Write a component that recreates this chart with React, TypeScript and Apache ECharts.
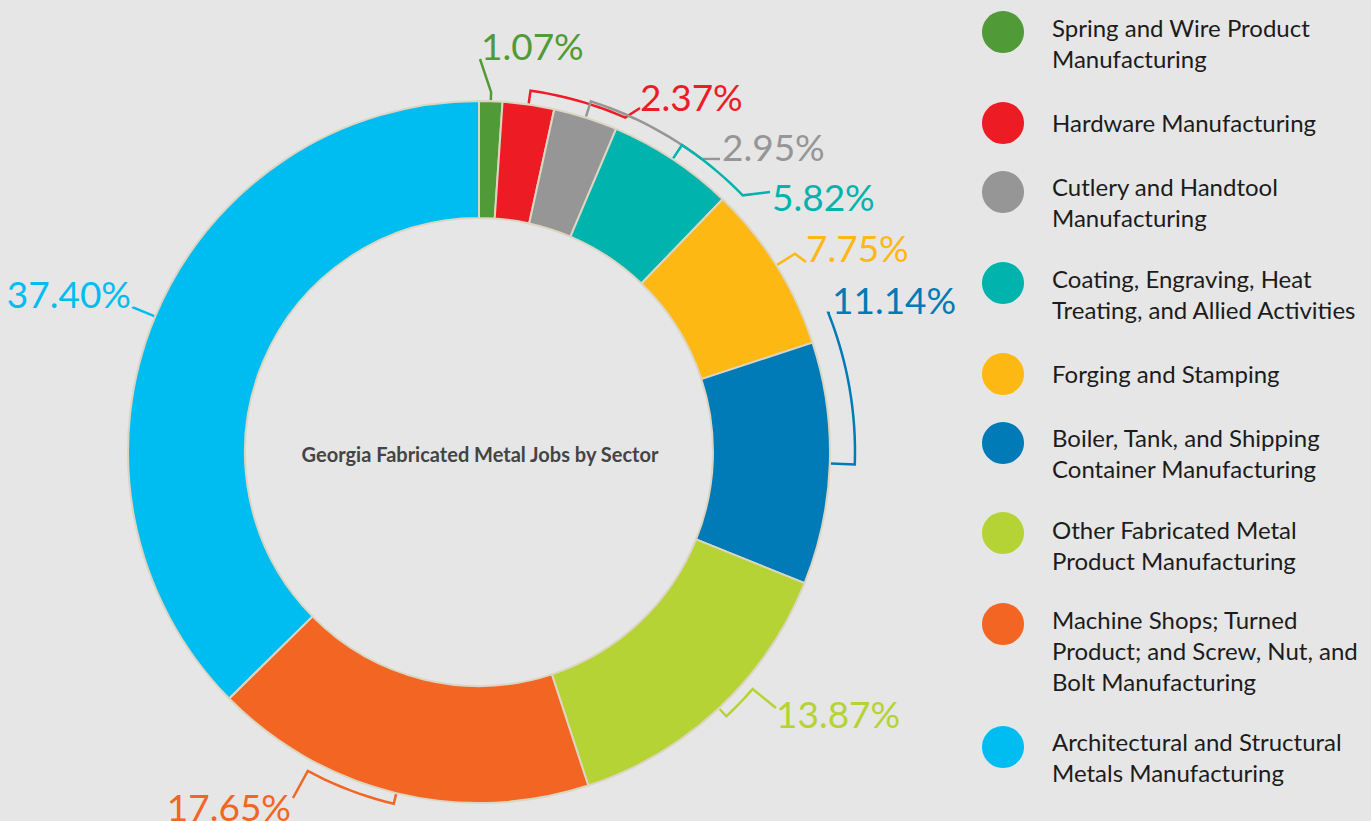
import React, { useEffect, useRef } from 'react';
import * as echarts from 'echarts';

// ---- data ----
const categories = [
  'Spring and Wire Product Manufacturing',
  'Hardware Manufacturing',
  'Cutlery and Handtool Manufacturing',
  'Coating, Engraving, Heat Treating, and Allied Activities',
  'Forging and Stamping',
  'Boiler, Tank, and Shipping Container Manufacturing',
  'Other Fabricated Metal Product Manufacturing',
  'Machine Shops; Turned Product; and Screw, Nut, and Bolt Manufacturing',
  'Architectural and Structural Metals Manufacturing',
];
const values = [1.07, 2.37, 2.95, 5.82, 7.75, 11.14, 13.87, 17.65, 37.4];
const legendLabels = [
  'Spring and Wire Product\nManufacturing',
  'Hardware Manufacturing',
  'Cutlery and Handtool\nManufacturing',
  'Coating, Engraving, Heat\nTreating, and Allied Activities',
  'Forging and Stamping',
  'Boiler, Tank, and Shipping\nContainer Manufacturing',
  'Other Fabricated Metal\nProduct Manufacturing',
  'Machine Shops; Turned\nProduct; and Screw, Nut, and\nBolt Manufacturing',
  'Architectural and Structural\nMetals Manufacturing',
];
const chartTitle = 'Georgia Fabricated Metal Jobs by Sector';

// ---- styles / layout ----
const colors = ['#519a38', '#ed1c24', '#969696', '#00b4ad', '#fdb814', '#007bb7', '#b5d334', '#f26522', '#00bdf1'];
const BG = '#e6e6e6';
const CX = 479;
const CY = 452;
const R_OUT = 351;
const R_IN = 234;
const FONT = 'Lato, "Noto Sans", sans-serif';

// leader: radial tick length beyond ring, arc sweep (deg, + = counter-clockwise), end point near label
const leaderLayout = [
  { tick: 9, arc: 0, end: [480, 59] },
  { tick: 14, arc: -15.5, end: [640, 108] },
  { tick: 17, arc: -19.5, end: [720, 159] },
  { tick: 17, arc: -12.3, end: [770, 192] },
  { tick: 22, arc: 0, end: [806, 262] },
  { tick: 25, arc: 23.6, end: [830, 313] },
  { tick: 11, arc: 6, end: [776, 708] },
  { tick: 11, arc: -14.6, end: [293, 798] },
  { tick: 24, arc: 0, end: [133, 307] },
];
const labelLayoutPos: [number, number, string][] = [
  [481, 45, 'left'],
  [640, 96, 'left'],
  [722, 146, 'left'],
  [772, 196, 'left'],
  [806, 247, 'left'],
  [832, 299, 'left'],
  [776, 713, 'left'],
  [291, 806, 'right'],
  [131, 293, 'right'],
];
const legendTextY = [27, 122, 186, 278, 373, 437, 529, 619, 741];
const legendDotY = [32, 123, 192, 283, 374, 443, 533, 624, 747];

export default function App() {
  const ref = useRef<HTMLDivElement>(null);

  useEffect(() => {
    const chart = echarts.init(ref.current!, null, { renderer: 'svg' });
    const total = values.reduce((a, b) => a + b, 0);
    const toPt = (deg: number, r: number) => [
      CX + r * Math.cos((deg * Math.PI) / 180),
      CY - r * Math.sin((deg * Math.PI) / 180),
    ];

    const legendGraphics: any[] = [];
    categories.forEach((_, i) => {
      legendGraphics.push({
        type: 'circle',
        shape: { cx: 1003, cy: legendDotY[i], r: 21 },
        style: { fill: colors[i] },
        silent: true,
      });
      legendGraphics.push({
        type: 'text',
        x: 1052,
        y: legendTextY[i] - 15.5,
        style: {
          text: legendLabels[i],
          font: `400 24px ${FONT}`,
          fill: '#1c1c1c',
          lineHeight: 31,
          textAlign: 'left',
          textVerticalAlign: 'top',
          align: 'left',
          verticalAlign: 'top',
        },
        silent: true,
      });
    });

    const option: any = {
      animation: false,
      backgroundColor: BG,
      graphic: [
        {
          type: 'text',
          x: CX + 1,
          y: 454,
          style: {
            text: chartTitle,
            font: `700 20px ${FONT}`,
            fill: '#444444',
            textAlign: 'center',
            textVerticalAlign: 'middle',
            align: 'center',
            verticalAlign: 'middle',
          },
          silent: true,
        },
        ...legendGraphics,
      ],
      series: [
        {
          type: 'pie',
          center: [CX, CY],
          radius: [R_IN, R_OUT],
          startAngle: 90,
          clockwise: true,
          avoidLabelOverlap: false,
          silent: true,
          data: categories.map((name, i) => ({
            name,
            value: values[i],
            itemStyle: { color: colors[i] },
            label: { color: colors[i] },
          })),
          itemStyle: { borderColor: '#dcd5c2', borderWidth: 2 },
          label: {
            show: true,
            position: 'outside',
            formatter: (p: any) => `${Number(p.value).toFixed(2)}%`,
            fontFamily: FONT,
            fontWeight: 400,
            fontSize: 37,
          },
          labelLine: { show: false },
          labelLayout: (p: any) => {
            const l = labelLayoutPos[p.dataIndex];
            return { x: l[0], y: l[1], align: l[2], verticalAlign: 'middle' };
          },
        },
        {
          type: 'custom',
          coordinateSystem: 'none',
          silent: true,
          data: values,
          renderItem: (params: any) => {
            const i = params.dataIndex;
            let cum = 0;
            for (let j = 0; j < i; j++) cum += values[j];
            const a0 = 90 - (cum / total) * 360;
            const a1 = 90 - ((cum + values[i]) / total) * 360;
            const mid = (a0 + a1) / 2;
            const L = leaderLayout[i];
            const rr = R_OUT + L.tick;
            const pts: number[][] = [toPt(mid, R_OUT + 1), toPt(mid, rr)];
            const steps = Math.max(1, Math.ceil(Math.abs(L.arc) / 1.5));
            if (L.arc !== 0) {
              for (let k = 1; k <= steps; k++) pts.push(toPt(mid + (L.arc * k) / steps, rr));
            }
            pts.push(L.end);
            return {
              type: 'polyline',
              shape: { points: pts },
              style: { stroke: colors[i], lineWidth: 2.5, fill: null, lineJoin: 'miter' },
            };
          },
        },
      ],
    };
    chart.setOption(option);
    return () => chart.dispose();
  }, []);

  return (
    <div
      ref={ref}
      style={{ position: 'fixed', left: 0, top: 0, width: 1371, height: 821 }}
    />
  );
}
